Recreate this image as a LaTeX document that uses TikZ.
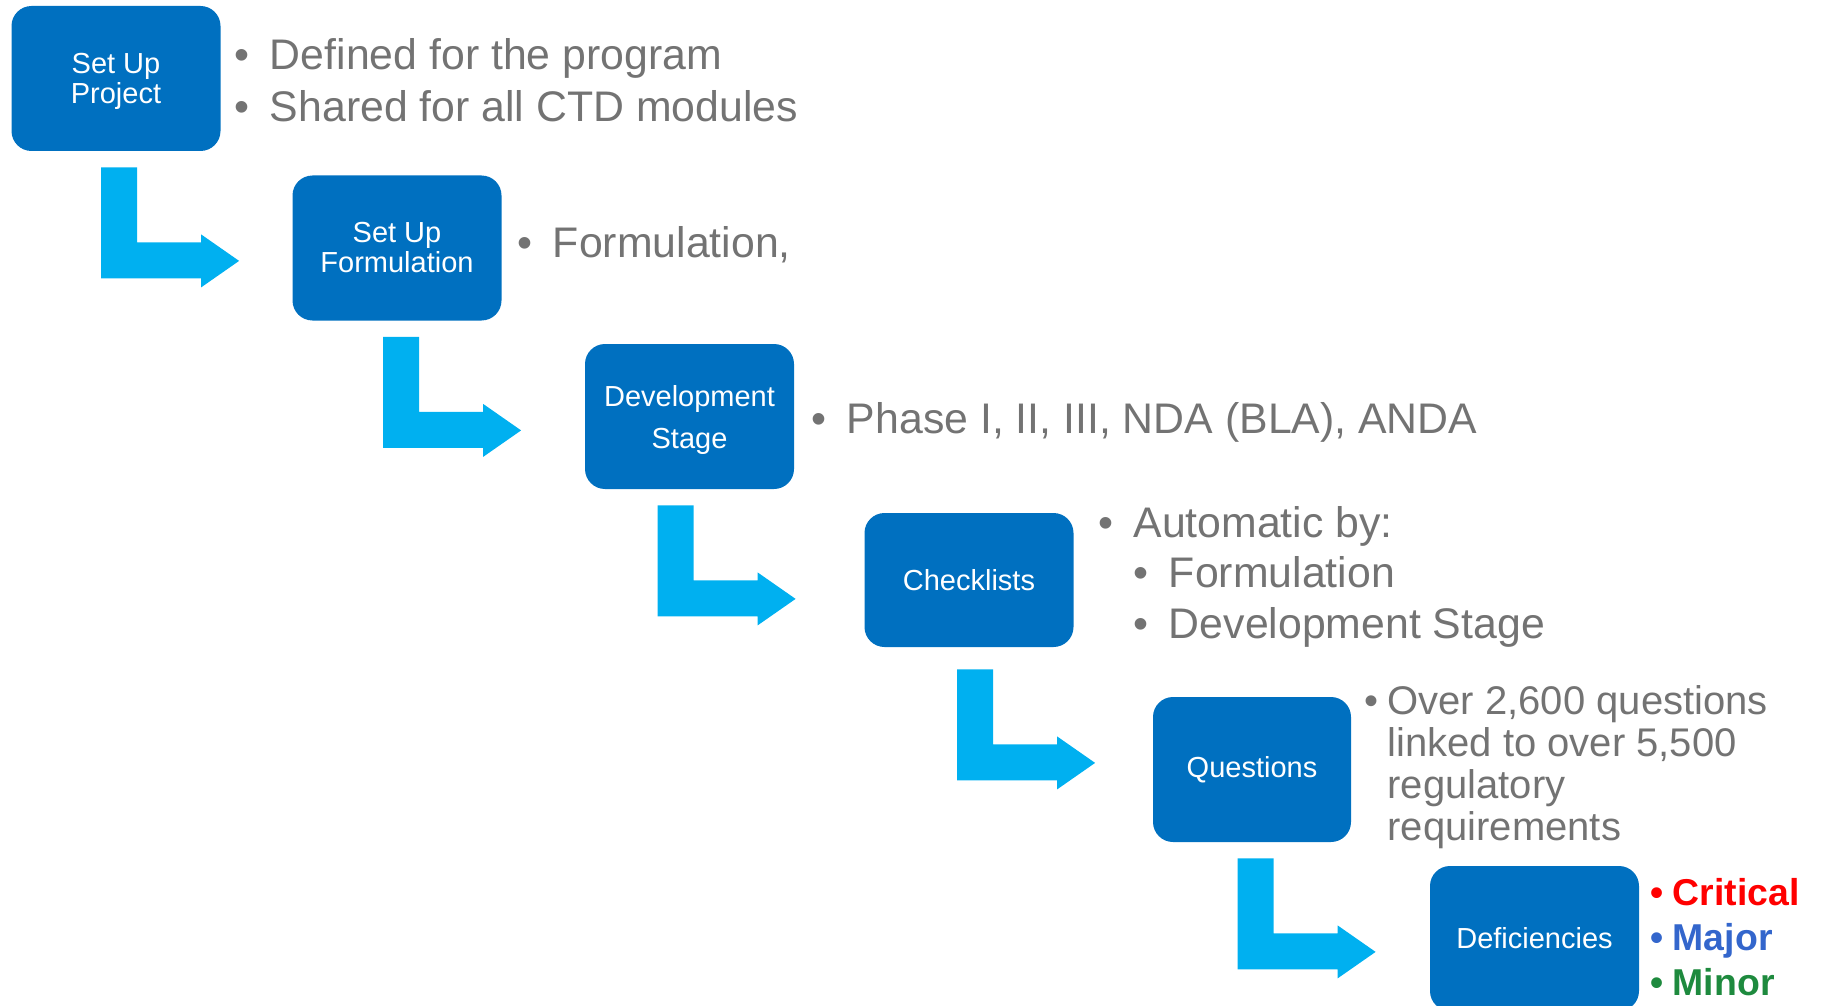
\documentclass[tikz,border=0pt]{standalone}
\usepackage{fontspec}
\setmainfont{Liberation Sans}
\usepackage{tikz}
\usetikzlibrary{calc}
\usetikzlibrary{positioning}

\definecolor{boxblue}{HTML}{0070C0}
\definecolor{flowcyan}{HTML}{00B0F0}
\definecolor{notegrey}{HTML}{737373}
\definecolor{critred}{HTML}{FF0000}
\definecolor{majblue}{HTML}{3366CC}
\definecolor{mingreen}{HTML}{1E8A3E}

\newcommand{\notebullet}[1]{\makebox[#1][l]{•}}

\tikzset{
	stage/.style={
		rectangle,
		rounded corners=10pt,
		fill=boxblue,
		text=white,
		align=center,
		inner sep=0mm,
		minimum width=104.5pt,
		minimum height=72.5pt,
		font=\fontsize{14.5pt}{15pt}\selectfont
	},
	note/.style={
		anchor=base west,
		inner sep=0mm,
		text=notegrey,
		font=\fontsize{21.4pt}{25pt}\selectfont
	},
	elbow/.pic = {
		\fill[flowcyan] (0,0) -- (36,0) -- (36,75) -- (100,75) -- (100,67)
			-- (138,93.5) -- (100,120) -- (100,111) -- (0,111) -- cycle;
	}
}

\begin{document}
\begin{tikzpicture}[
		x=0.5pt,
		y=-0.5pt,
	]

	% The canvas, pixel units with y going down
	\useasboundingbox (0,0) rectangle (1822,1006);
	\clip (0,0) rectangle (1822,1006);

	% Draw the stages
	\node[stage, text depth=0pt] (s1) at (116,78.5) {Set Up\\Project};
	\node[stage] (s2) at (397,248) {Set Up\\Formulation};
	\node[stage, text depth=0pt, font=\fontsize{14.5pt}{21pt}\selectfont] (s3) at (689.5,416.5)
		{Development\\Stage};
	\node[stage, minimum height=67pt] (s4) at (969,580) {Checklists};
	\node[stage, minimum width=99pt] (s5) at (1252,769.5) {Questions};
	\node[stage] (s6) at (1534.5,938.5) {Deficiencies};

	% Draw the elbow arrows
	\pic at ($(s1.south west)+(90,16)$) {elbow};
	\pic at ($(s2.south west)+(91,16)$) {elbow};
	\pic at ($(s3.south west)+(73,16)$) {elbow};
	\pic at ($(s4.south west)+(93,22)$) {elbow};
	\pic at ($(s5.south west)+(85,16)$) {elbow};

	% Notes beside the stages
	\node[note] (n1a) at (234.5,70) {\notebullet{0.82em}Defined for the program};
	\node[note] (n1b) at (234.5,122) {\notebullet{0.82em}Shared for all CTD modules};
	\node[note] (n2) at (517.5,257) {\notebullet{0.82em}Formulation,};
	\node[note] (n3) at (811.5,433) {\notebullet{0.82em}Phase I, II, III, NDA (BLA), ANDA};
	\node[note] (n4a) at (1098,537) {\notebullet{0.82em}Automatic by:};
	\node[note] (n4b) at (1133.5,587) {\notebullet{0.82em}Formulation};
	\node[note] (n4c) at (1133.5,638) {\notebullet{0.82em}Development Stage};

	\node[note, align=left, font=\fontsize{20pt}{21pt}\selectfont] (n5) at (1364,840)
		{\notebullet{0.58em}Over 2,600 questions\\
		\hspace*{0.58em}linked to over 5,500\\
		\hspace*{0.58em}regulatory\\
		\hspace*{0.58em}requirements};

	\node[note, align=left, font=\bfseries\fontsize{18.7pt}{22.5pt}\selectfont] (n6) at (1650,995)
		{\textcolor{critred}{\notebullet{0.6em}Critical}\\
		\textcolor{majblue}{\notebullet{0.6em}Major}\\
		\textcolor{mingreen}{\notebullet{0.6em}Minor}};

\end{tikzpicture}
\end{document}
